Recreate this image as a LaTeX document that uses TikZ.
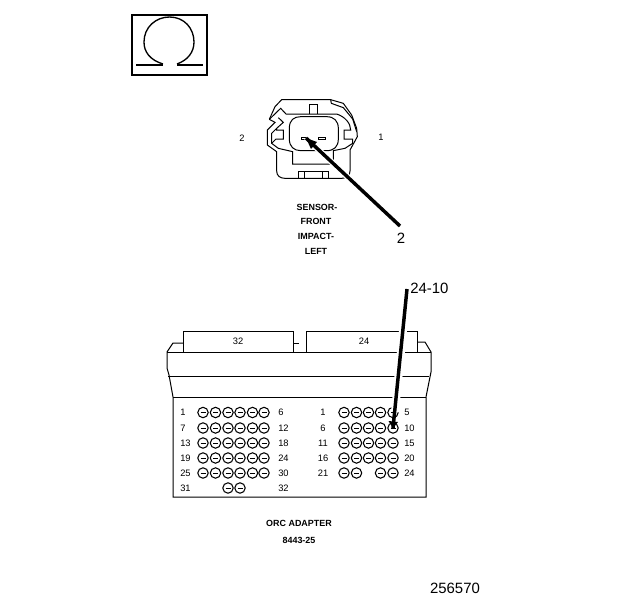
\documentclass[tikz,border=0pt]{standalone}
\usepackage{fontspec}
\setmainfont{Liberation Sans}
\tikzset{
  px/.style={x=0.75pt,y=-0.75pt},
  thinl/.style={line width=0.75pt,black},
  leader/.style={line width=2.6pt,black},
  halo/.style={line width=6pt,white},
  tiny/.style={font=\fontsize{6.7}{7}\selectfont\bfseries,inner sep=0pt},
  lab/.style={font=\fontsize{7}{8}\selectfont,inner sep=0pt},
  big/.style={font=\fontsize{11.2}{13}\selectfont,inner sep=0pt},
  pinc/.style={circle,draw,line width=0.8pt,minimum size=7.8pt,inner sep=0pt},
}
\newcommand{\pinat}[2]{\node[pinc] at (#1,#2) {};\draw[line width=0.6pt] (#1-2.5,#2) -- (#1+2.5,#2);}
\begin{document}
\begin{tikzpicture}[px]
\useasboundingbox (0,0) rectangle (624,600);
% ohm box
\draw[line width=1.5pt] (132,15) rectangle (207,75);
\draw[line width=1pt] (163,64) .. controls (150,60) and (144,52) .. (144,42) .. controls (144,27) and (156,17) .. (169.5,17) .. controls (184,17) and (194,28) .. (194,42) .. controls (194,52) and (188,60) .. (177,64);
\draw[line width=1.5pt] (136,65) -- (163,65) (177,65) -- (203,65);
% sensor connector (coordinates from a 3x crop at 260,95)
\begin{scope}[shift={(260,95)},x=0.25pt,y=-0.25pt,thinl]
\draw (28,73) -- (45,35) -- (65,14) -- (212,14) -- (250,25) -- (275,60) -- (290,100) -- (292,125) -- (270,165) -- (270,228) .. controls (270,242) and (260,250) .. (245,250) -- (75,250) .. controls (60,250) and (50,242) .. (50,228) -- (50,170) -- (22,150) -- (22,105) -- (45,82) -- (28,73);
\draw (212,14) -- (214,25) -- (250,38) -- (278,72) -- (290,110);
\draw (28,73) -- (62,40) -- (78,57) -- (230,57) .. controls (255,65) and (272,85) .. (272,105) -- (252,105) -- (252,132) -- (278,132) -- (278,145) -- (255,160) -- (220,167) -- (220,207) -- (98,207) -- (98,170) -- (55,160) -- (35,145) -- (35,115) -- (50,100) -- (70,82) -- (55,68);
\draw (50,100) -- (50,105) -- (70,105) -- (70,132) -- (48,132) -- (35,145);
\draw (88,100) .. controls (88,75) and (102,65) .. (122,65) -- (200,65) .. controls (222,65) and (235,78) .. (235,100) -- (235,132) .. controls (235,155) and (222,167) .. (200,167) -- (122,167) .. controls (102,167) and (88,155) .. (88,132) -- cycle;
\draw (148,57) -- (148,28) -- (172,28) -- (172,57);
\draw (115,250) -- (115,229) -- (205,229) -- (205,250);
\draw (132,250) -- (132,229) (188,250) -- (188,229);
\draw (124,126) rectangle (142,134);
\draw (176,126) rectangle (196,134);
\end{scope}
\coordinate (lead1s) at (400,226);
\coordinate (lead1e) at (306,138);
\draw[line width=4.5pt,white] (lead1s) -- (lead1e);
\draw[leader] (lead1s) -- (lead1e);
\fill (lead1e) -- (317,142) -- (311,149) -- cycle;
\node[lab] (s2) at (242,138) {2};
\node[lab] (s1) at (381,137) {1};
\node[tiny] (t1) at (317,207) {SENSOR-};
\node[tiny] (t2) at (316,221) {FRONT};
\node[tiny] (t3) at (316,236) {IMPACT-};
\node[tiny] (t4) at (316,251) {LEFT};
\node[big] (c2) at (401,238) {2};
% adapter
\draw[thinl] (183,352) -- (183,331) -- (293,331) -- (293,352);
\draw[thinl] (293,343) -- (299,343);
\draw[thinl] (306,352) -- (306,331) -- (417,331) -- (417,352);
\draw[thinl] (417,342) -- (425,342) -- (431,352) -- (431,372) -- (426,397) -- (426,497) -- (173,497) -- (173,397) -- (169,375) -- (167,368) -- (167,352) -- (173,343) -- (183,343);
\draw[thinl] (167,352) -- (431,352);
\draw[thinl] (168,376) -- (429,376);
\draw[thinl] (173,397) -- (426,397);
\node[lab] at (238,341) {32};
\node[lab] at (364,341) {24};
\foreach \y/\a/\b in {412.5/1/6,428/7/12,443/13/18,458/19/24,473/25/30,488/31/32}{
  \node[lab,anchor=west] at (180,\y) {\a};
  \node[lab,anchor=west] at (278,\y) {\b};
}
\foreach \y in {412.5,428,443,458,473}{
  \foreach \x in {203,215.5,228,240,252.5,264}{\pinat{\x}{\y}}
}
\foreach \x in {228,240}{\pinat{\x}{488}}
\foreach \y/\a/\b in {412.5/1/5,428/6/10,443/11/15,458/16/20,473/21/24}{
  \node[lab] at (323,\y) {\a};
  \node[lab,anchor=west] at (404,\y) {\b};
}
\foreach \y in {412.5,428,443,458}{
  \foreach \x in {344,356.5,368.5,380.5,393}{\pinat{\x}{\y}}
}
\foreach \x in {344,356.5,380.5,393}{\pinat{\x}{473}}
\coordinate (lead2s) at (407,289);
\coordinate (lead2e) at (393,428);
\draw[halo] (lead2s) -- (395,412);
\draw[leader] (lead2s) -- (lead2e);
\fill (lead2e) -- (388.5,421) -- (398,422) -- cycle;
\node[big,anchor=west] (c3) at (410,288) {24-10};
\node[tiny] at (299,523) {ORC ADAPTER};
\node[tiny] at (299,540) {8443-25};
\node[big] at (455,588) {256570};
\end{tikzpicture}
\end{document}
